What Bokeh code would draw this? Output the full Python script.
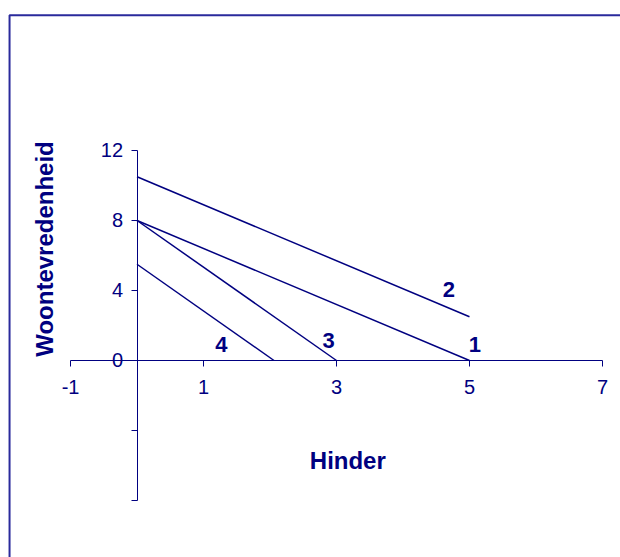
from bokeh.plotting import figure
from bokeh.models import (Range1d, LinearAxis, FixedTicker, Label,
                          BoxAnnotation, ColumnDataSource)
from bokeh.embed import file_html
from bokeh.resources import INLINE
from bokeh.core.properties import value

# ---------------- data ----------------
line_ids = ["1", "2", "3", "4"]
line_x0 = [0.0, 0.0, 0.0, 0.0]
line_y0 = [8.0, 10.5, 8.0, 5.5]
line_x1 = [5.0, 5.0, 3.0, 2.06]
line_y1 = [0.0, 2.5, 0.0, 0.0]
label_x = [5.08, 4.69, 2.88, 1.27]
label_y = [0.94, 4.03, 1.14, 0.91]

x_ticks = [-1, 1, 3, 5, 7]
x_tick_labels = ["-1", "1", "3", "5", "7"]
y_ticks = [-8, -4, 0, 4, 8, 12]
y_tick_labels = ["", "", "0", "4", "8", "12"]

x_title = "Hinder"
y_title = "Woontevredenheid"

NAVY = "#000080"
FONT = "Liberation Sans"

# ---------------- figure ----------------
p = figure(width=620, height=557, output_backend="svg", toolbar_location=None,
           x_range=Range1d(-2.053, 7.271), y_range=Range1d(-11.257, 20.571),
           x_axis_type=None, y_axis_type=None, min_border=0)
p.outline_line_color = None
p.background_fill_color = "white"
p.border_fill_color = "white"

# chart-area frame (extends beyond the visible crop on right / bottom)
frame = BoxAnnotation(left=-1.917, top=19.73, right=10, bottom=-20,
                      fill_alpha=0, line_alpha=1, line_color="#2a2a9c",
                      line_width=2)
p.add_layout(frame)

def style_axis(ax, standoff):
    ax.axis_line_color = NAVY
    ax.axis_line_width = 1
    ax.major_tick_line_color = NAVY
    ax.major_tick_in = 0
    ax.major_tick_out = 6
    ax.minor_tick_line_color = None
    ax.major_label_text_color = NAVY
    ax.major_label_text_font = FONT
    ax.major_label_text_font_size = "20px"
    ax.major_label_standoff = standoff

xaxis = LinearAxis(fixed_location=0, bounds=(-1, 7),
                   ticker=FixedTicker(ticks=x_ticks),
                   major_label_overrides={t: s for t, s in zip(x_ticks, x_tick_labels)})
style_axis(xaxis, 14)
p.add_layout(xaxis, "below")

yaxis = LinearAxis(fixed_location=0, bounds=(-8, 12),
                   ticker=FixedTicker(ticks=y_ticks),
                   major_label_overrides={t: s for t, s in zip(y_ticks, y_tick_labels)})
style_axis(yaxis, 8)
p.add_layout(yaxis, "left")

src = ColumnDataSource(dict(id=line_ids, x0=line_x0, y0=line_y0,
                            x1=line_x1, y1=line_y1, lx=label_x, ly=label_y))

p.segment(x0="x0", y0="y0", x1="x1", y1="y1", source=src,
          line_color=NAVY, line_width=1.5)

p.text(x="lx", y="ly", text="id", source=src,
       text_font=value(FONT), text_font_style="bold", text_font_size="22px",
       text_align="center", text_baseline="middle", text_color=NAVY)

p.add_layout(Label(x=3.17, y=-5.74, text=x_title, text_align="center",
                   text_baseline="middle", text_font=FONT,
                   text_font_style="bold", text_font_size="24px",
                   text_color=NAVY))
p.add_layout(Label(x=-1.39, y=6.37, text=y_title, angle=90, angle_units="deg",
                   text_align="center", text_baseline="middle", text_font=FONT,
                   text_font_style="bold", text_font_size="24px",
                   text_color=NAVY))

open("out.html", "w").write(file_html(p, INLINE))
